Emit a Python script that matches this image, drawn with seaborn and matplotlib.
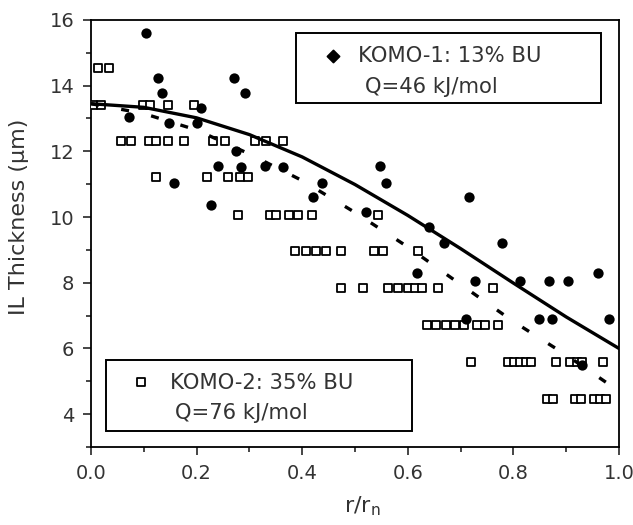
import matplotlib
matplotlib.use("Agg")
import matplotlib.pyplot as plt
from matplotlib.patches import Rectangle
from matplotlib.ticker import MultipleLocator, FormatStrFormatter
import pandas as pd
import seaborn as sns

# KOMO-1, 13% BU: measured interaction-layer thickness vs. relative radius
komo1_r = [0.071, 0.105, 0.126, 0.134, 0.148, 0.157, 0.201, 0.209, 0.227, 0.240,
           0.271, 0.274, 0.285, 0.292, 0.330, 0.363, 0.421, 0.438, 0.520, 0.547,
           0.558, 0.618, 0.640, 0.668, 0.710, 0.716, 0.728, 0.778, 0.812, 0.848,
           0.868, 0.874, 0.904, 0.930, 0.961, 0.982]
komo1_t = [13.05, 15.61, 14.23, 13.79, 12.85, 11.05, 12.85, 13.32, 10.38, 11.54,
           14.23, 12.00, 11.51, 13.79, 11.54, 11.53, 10.60, 11.04, 10.14, 11.54,
           11.03, 8.30, 9.69, 9.20, 6.91, 10.60, 8.06, 9.21, 8.06, 6.90,
           8.06, 6.90, 8.06, 5.50, 8.29, 6.90]

# KOMO-2, 35% BU
komo2_r = [0.013, 0.034,
           0.004, 0.019, 0.099, 0.112, 0.146, 0.196,
           0.056, 0.076, 0.110, 0.124, 0.146, 0.177, 0.231, 0.253, 0.310, 0.332, 0.364,
           0.124, 0.220, 0.259, 0.283, 0.297,
           0.278, 0.339, 0.350, 0.375, 0.393, 0.418, 0.544,
           0.386, 0.407, 0.427, 0.446, 0.474, 0.536, 0.554, 0.619,
           0.474, 0.515, 0.563, 0.582, 0.601, 0.614, 0.626, 0.658, 0.762,
           0.636, 0.654, 0.672, 0.690, 0.706, 0.732, 0.746, 0.770,
           0.719, 0.790, 0.801, 0.812, 0.823, 0.833, 0.881, 0.908, 0.920, 0.930, 0.970,
           0.864, 0.876, 0.917, 0.928, 0.952, 0.964, 0.976]
komo2_t = [14.55, 14.55,
           13.40, 13.40, 13.40, 13.40, 13.40, 13.40,
           12.32, 12.32, 12.32, 12.32, 12.32, 12.32, 12.32, 12.32, 12.32, 12.32, 12.32,
           11.21, 11.21, 11.21, 11.21, 11.21,
           10.07, 10.07, 10.07, 10.07, 10.07, 10.07, 10.07,
           8.97, 8.97, 8.97, 8.97, 8.97, 8.97, 8.97, 8.97,
           7.83, 7.83, 7.83, 7.83, 7.83, 7.83, 7.83, 7.83, 7.83,
           6.70, 6.70, 6.70, 6.70, 6.70, 6.70, 6.70, 6.70,
           5.60, 5.60, 5.60, 5.60, 5.60, 5.60, 5.60, 5.60, 5.60, 5.60, 5.60,
           4.47, 4.47, 4.47, 4.47, 4.47, 4.47, 4.47]

# Model thickness profiles for the two activation energies
model_r = [0.0, 0.1, 0.2, 0.3, 0.4, 0.5, 0.6, 0.7, 0.8, 0.9, 1.0]
model_q46 = [13.45, 13.34, 13.02, 12.51, 11.83, 10.99, 10.05, 9.04, 7.99, 6.96, 6.00]
model_q76 = [13.45, 13.15, 12.65, 11.92, 11.11, 10.14, 9.09, 7.95, 6.82, 5.80, 4.70]

legend1_lines = ["KOMO-1: 13% BU", "Q=46 kJ/mol"]
legend2_lines = ["KOMO-2: 35% BU", "Q=76 kJ/mol"]

komo1 = pd.DataFrame({"r": komo1_r, "t": komo1_t})
komo2 = pd.DataFrame({"r": komo2_r, "t": komo2_t})
model = pd.DataFrame({"r": model_r, "q46": model_q46, "q76": model_q76})

sns.set_style("ticks")
plt.rcParams["font.family"] = ["DejaVu Sans"]
ink = "#333333"

fig = plt.figure(figsize=(6.33, 5.25), dpi=100)
ax = fig.add_axes([0.1438, 0.1486, 0.834, 0.8134])

sns.scatterplot(data=komo2, x="r", y="t", marker="s", s=28, color="white",
                edgecolor="black", linewidth=1.3, ax=ax, zorder=3, legend=False)
sns.scatterplot(data=komo1, x="r", y="t", marker="o", s=55, color="black",
                edgecolor="black", linewidth=0, ax=ax, zorder=4, legend=False)
sns.lineplot(data=model, x="r", y="q46", color="black", lw=2.4, ax=ax, zorder=5)
sns.lineplot(data=model, x="r", y="q76", color="black", lw=2.4, ax=ax, zorder=5)
ax.lines[-1].set_dashes([2.4, 6.8])

ax.set_xlim(0, 1)
ax.set_ylim(3, 16)
ax.xaxis.set_major_locator(MultipleLocator(0.2))
ax.xaxis.set_minor_locator(MultipleLocator(0.1))
ax.xaxis.set_major_formatter(FormatStrFormatter("%.1f"))
ax.yaxis.set_major_locator(MultipleLocator(2))
ax.yaxis.set_minor_locator(MultipleLocator(1))
ax.tick_params(which="major", direction="out", length=6, width=1.2,
               labelsize=14, labelcolor=ink, pad=6)
ax.tick_params(which="minor", direction="out", length=3.5, width=1.2)
for sp in ax.spines.values():
    sp.set_linewidth(1.3)
    sp.set_color("black")

ax.set_xlabel(r"r/r$_\mathregular{n}$", fontsize=16, color=ink)
ax.set_ylabel("IL Thickness (\u03bcm)", fontsize=16, color=ink)
ax.xaxis.set_label_coords(0.513, -0.11)
ax.yaxis.set_label_coords(-0.118, 0.539)
ax.xaxis.label.set_va("top")

# Boxed keys for the two samples
def key_box(x0, y0, x1, y1, mx, my, marker, face, lines, tx, ty1, tx2, ty2):
    ax.add_patch(Rectangle((x0, y0), x1 - x0, y1 - y0, transform=ax.transAxes,
                           fill=True, facecolor="white", edgecolor="black",
                           linewidth=1.4, zorder=6))
    ax.scatter([mx], [my], transform=ax.transAxes, marker=marker,
               s=38 if marker == "D" else 28,
               facecolor=face, edgecolor="black", linewidth=1.3, zorder=7, clip_on=False)
    ax.text(tx, ty1, lines[0], transform=ax.transAxes, fontsize=15.2, color=ink,
            ha="left", va="center", zorder=7)
    ax.text(tx2, ty2, lines[1], transform=ax.transAxes, fontsize=15.2, color=ink,
            ha="left", va="center", zorder=7)

key_box(0.388, 0.806, 0.966, 0.970, 0.458, 0.916, "D", "black", legend1_lines,
        0.506, 0.9145, 0.519, 0.844)
key_box(0.0284, 0.0375, 0.608, 0.2037, 0.0947, 0.152, "s", "white", legend2_lines,
        0.1496, 0.150, 0.159, 0.0803)

fig.savefig("out.png", dpi=100)
